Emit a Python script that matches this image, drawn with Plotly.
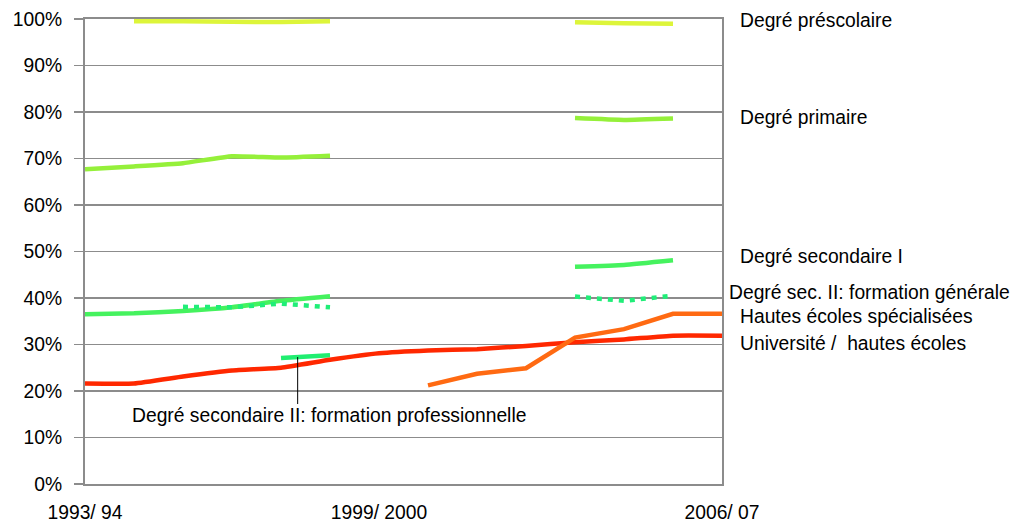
import plotly.graph_objects as go

years = ["1993/94", "1994/95", "1995/96", "1996/97", "1997/98", "1998/99", "1999/2000",
         "2000/01", "2001/02", "2002/03", "2003/04", "2004/05", "2005/06", "2006/07"]
tick_years = ["1993/94", "1999/2000", "2006/07"]
tick_text = ["1993/ 94", "1999/ 2000", "2006/ 07"]
y_ticks = [0, 10, 20, 30, 40, 50, 60, 70, 80, 90, 100]

prescolaire = [None, 99.5, 99.5, 99.4, 99.35, 99.5, None, None, None, None, 99.3, 99.1, 99.0, None]
primaire = [67.7, 68.3, 69.0, 70.5, 70.2, 70.6, None, None, None, None, 78.7, 78.3, 78.6, None]
secondaire1 = [36.5, 36.7, 37.2, 38.0, 39.4, 40.4, None, None, None, None, 46.7, 47.1, 48.1, None]
sec2_generale = [None, None, 38.1, 38.0, 38.8, 38.0, None, None, None, None, 40.3, 39.4, 40.5, None]
sec2_prof = [None, None, None, None, 27.1, 27.7, None, None, None, None, None, None, None, None]
universite = [21.6, 21.6, 23.1, 24.4, 25.0, 26.7, 28.1, 28.7, 29.0, 29.7, 30.5, 31.1, 31.9, 31.9]
hes = [None, None, None, None, None, None, None, 21.2, 23.7, 24.9, 31.5, 33.3, 36.6, 36.6]

series = [
    ("Degré préscolaire", prescolaire, "#DDF53A", "solid", "spline"),
    ("Degré primaire", primaire, "#95F03A", "solid", "spline"),
    ("Degré secondaire I", secondaire1, "#45F25E", "solid", "spline"),
    ("Degré sec. II: formation générale", sec2_generale, "#20EE78", "5px,6px", "linear"),
    ("Degré secondaire II: formation professionnelle", sec2_prof, "#20EE70", "solid", "linear"),
    ("Université /  hautes écoles", universite, "#FF2800", "solid", "spline"),
    ("Hautes écoles spécialisées", hes, "#FF6A12", "solid", "linear"),
]

xidx = list(range(len(years)))
fig = go.Figure()
for name, vals, color, dash, shape in series:
    fig.add_trace(go.Scatter(
        x=xidx, y=vals, mode="lines", name=name,
        line=dict(color=color, width=4.5, dash=dash, shape=shape, smoothing=0.4),
        connectgaps=False, hoverinfo="skip"))

font = "Liberation Sans, Arial, sans-serif"
fs = 19.3

# right-side labels
right_labels = [
    ("Degré préscolaire", 99.6, 1.030),
    ("Degré primaire", 78.9, 1.030),
    ("Degré secondaire I", 49.0, 1.030),
    ("Degré sec. II: formation générale", 41.1, 1.0125),
    ("Hautes écoles spécialisées", 36.1, 1.030),
    ("Université /  hautes écoles", 30.3, 1.030),
]
for text, yv, xp in right_labels:
    fig.add_annotation(x=xp, xref="paper", y=yv, yref="y", text=text, showarrow=False,
                       xanchor="left", yanchor="middle", xshift=-3,
                       font=dict(size=fs, color="black", family=font))

# label with leader line
fig.add_annotation(x=4.97, y=14.8, xref="x", yref="y",
                   text="Degré secondaire II: formation professionnelle", showarrow=False,
                   xanchor="center", yanchor="middle", font=dict(size=fs, color="black", family=font))
fig.add_shape(type="line", x0=4.34, x1=4.34, y0=27.3, y1=17.2, xref="x", yref="y",
              line=dict(color="black", width=1))

tickpos = [years.index(t) for t in tick_years]
fig.update_layout(
    width=1022, height=526,
    margin=dict(l=85, r=300, t=19, b=42, autoexpand=False),
    paper_bgcolor="white", plot_bgcolor="white",
    showlegend=False,
    font=dict(family=font, size=fs, color="black"),
    xaxis=dict(range=[0, 13], tickmode="array", tickvals=tickpos, ticktext=tick_text,
               showgrid=False, zeroline=False, showline=True, mirror=True, automargin=False,
               linecolor="#8C8C8C", linewidth=2, ticks="", ticklabelstandoff=10,
               tickfont=dict(size=fs, family=font)),
    yaxis=dict(range=[0, 100], tickmode="array", tickvals=y_ticks,
               ticktext=[f"{v}%" for v in y_ticks], automargin=False,
               showgrid=True, gridcolor="#8C8C8C", gridwidth=1.5, zeroline=False,
               showline=True, mirror=True, linecolor="#8C8C8C", linewidth=2,
               ticks="outside", ticklen=9, tickcolor="#8C8C8C", tickwidth=1.5,
               ticklabelstandoff=8, tickfont=dict(size=fs, family=font)),
)

fig.write_html("out.html", config={"displayModeBar": False, "staticPlot": True},
               post_script="document.body.style.margin='0';document.body.style.padding='0';")
